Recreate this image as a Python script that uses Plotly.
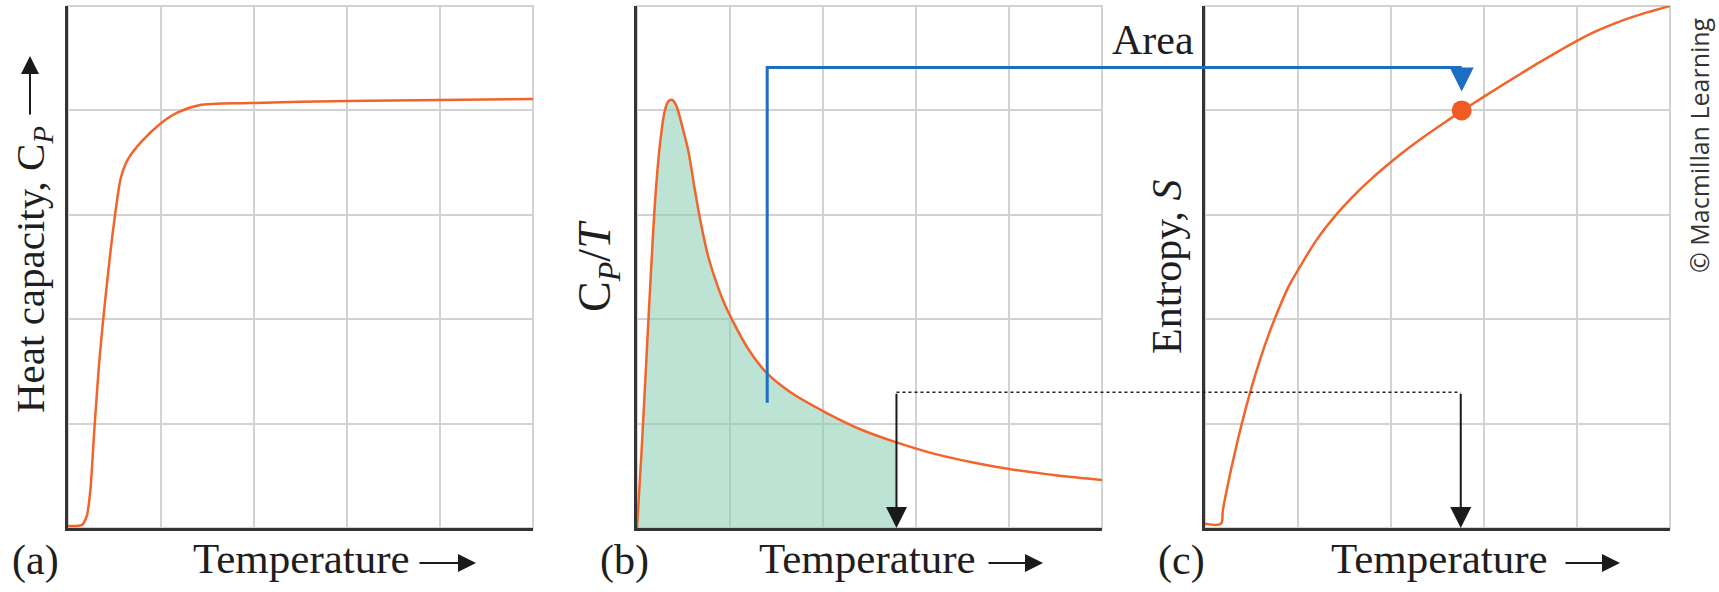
import plotly.graph_objects as go

# ---------------- data (grid units 0..5) ----------------
# (a) heat capacity vs temperature
a_T = [0, 0.15, 0.20, 0.24, 0.28, 0.34, 0.42, 0.49, 0.57, 0.65, 0.80, 0.99, 1.18, 1.41, 1.95, 3.01, 3.99, 5.0]
a_Cp = [0.02, 0.03, 0.11, 0.36, 0.90, 1.63, 2.35, 2.89, 3.36, 3.54, 3.71, 3.87, 3.98, 4.05, 4.07, 4.09, 4.10, 4.11]

# (b) Cp/T vs temperature
b_T = [0, 0.05, 0.10, 0.15, 0.20, 0.25, 0.30, 0.34, 0.38, 0.42, 0.45, 0.50, 0.55, 0.62, 0.68, 0.76, 0.85,
       0.93, 1.02, 1.20, 1.40, 1.65, 2.0, 2.4, 2.79, 3.2, 3.6, 4.0, 4.5, 5.0]
b_CpT = [0, 0.75, 1.60, 2.45, 3.20, 3.70, 4.00, 4.09, 4.10, 4.05, 3.97, 3.80, 3.62, 3.25, 2.95, 2.62, 2.36,
         2.17, 2.0, 1.71, 1.48, 1.30, 1.12, 0.946, 0.82, 0.71, 0.63, 0.565, 0.505, 0.46]
b_fill_end = 2.79          # temperature up to which the area is shaded

# (c) entropy vs temperature
c_T = [0, 0.17, 0.19, 0.2, 0.3, 0.4, 0.5, 0.6, 0.7, 0.8, 0.9, 1.0, 1.2, 1.4, 1.6, 1.8, 2.0, 2.2, 2.4,
       2.6, 2.76, 3.0, 3.2, 3.4, 3.6, 3.8, 4.0, 4.2, 4.4, 4.6, 4.8, 5.0]
c_S = [0.04, 0.04, 0.15, 0.21, 0.64, 1.015, 1.345, 1.635, 1.89, 2.115, 2.315, 2.47, 2.76, 2.99, 3.184,
       3.354, 3.506, 3.646, 3.776, 3.899, 3.993, 4.132, 4.244, 4.354, 4.462, 4.566, 4.666, 4.756, 4.832,
       4.896, 4.95, 5.0]
c_point_T = [2.76]
c_point_S = [4.0]

# connector annotations (grid units)
area_T_b = 1.40            # blue "Area" line in panel b
area_bottom = 1.20
area_level = 4.41
area_T_c = 2.76
area_tip = 4.18
temp_level = 1.30          # dotted temperature transfer line
temp_T_b = 2.79
temp_T_c = 2.75

# ---------------- styling ----------------
W, H = 1719, 592
ORANGE = "#f2642a"
DOT = "#f05a24"
BLUE = "#1b6ec2"
FILL = "rgba(135,204,179,0.55)"
GRID = "#d2d2d2"
AXIS = "#333333"
TXT = "#1e1e1e"
SERIF = "Liberation Serif"


def px(x):
    return x / W


def py(y):
    return 1 - y / H


XDOM = {"a": (px(68), px(533)), "b": (px(637), px(1102)), "c": (px(1205), px(1670))}
YDOM = (py(528), py(6))
RANGE = 5.0


def to_paper(panel, x, y):
    d0, d1 = XDOM[panel]
    return d0 + (d1 - d0) * x / RANGE, YDOM[0] + (YDOM[1] - YDOM[0]) * y / RANGE


fig = go.Figure()

# (a)
fig.add_trace(go.Scatter(x=a_T, y=a_Cp, mode="lines", xaxis="x", yaxis="y",
                         line=dict(color=ORANGE, width=2.5, shape="spline", smoothing=0.8),
                         hoverinfo="skip"))
# (b) shaded area then curve
fill_T = [t for t in b_T if t <= b_fill_end]
fill_V = [v for t, v in zip(b_T, b_CpT) if t <= b_fill_end]
fig.add_trace(go.Scatter(x=fill_T, y=fill_V, mode="lines", xaxis="x2", yaxis="y2",
                         line=dict(width=0, shape="spline", smoothing=1.0),
                         fill="tozeroy", fillcolor=FILL, hoverinfo="skip"))
fig.add_trace(go.Scatter(x=b_T, y=b_CpT, mode="lines", xaxis="x2", yaxis="y2",
                         line=dict(color=ORANGE, width=2.5, shape="spline", smoothing=1.0),
                         hoverinfo="skip"))
# (c)
fig.add_trace(go.Scatter(x=c_T, y=c_S, mode="lines", xaxis="x3", yaxis="y3",
                         line=dict(color=ORANGE, width=2.5, shape="spline", smoothing=1.0),
                         hoverinfo="skip"))
fig.add_trace(go.Scatter(x=c_point_T, y=c_point_S, mode="markers", xaxis="x3", yaxis="y3",
                         marker=dict(color=DOT, size=20), cliponaxis=False, hoverinfo="skip"))

axis_common = dict(range=[0, RANGE], tick0=0, dtick=1, showticklabels=False, ticks="",
                   showgrid=True, gridcolor=GRID, gridwidth=2, zeroline=False,
                   showline=True, linecolor=AXIS, linewidth=3, fixedrange=True)

layout = dict(width=W, height=H, margin=dict(l=0, r=0, t=0, b=0),
              paper_bgcolor="white", plot_bgcolor="white", showlegend=False)
for i, p in enumerate(["a", "b", "c"]):
    sfx = "" if i == 0 else str(i + 1)
    layout["xaxis" + sfx] = dict(axis_common, domain=list(XDOM[p]), anchor="y" + sfx)
    layout["yaxis" + sfx] = dict(axis_common, domain=list(YDOM), anchor="x" + sfx)
fig.update_layout(**layout)

shapes = []
# light grey frame on the top / right of each panel
for i in range(3):
    sfx = "" if i == 0 else str(i + 1)
    shapes.append(dict(type="rect", xref="x" + sfx + " domain", yref="y" + sfx + " domain",
                       x0=0, x1=1, y0=0, y1=1, line=dict(color=GRID, width=2), layer="below"))

# blue connector: panel b up, across, into panel c
p1 = to_paper("b", area_T_b, area_bottom)
p2 = to_paper("b", area_T_b, area_level)
p3 = to_paper("c", area_T_c, area_level)
shapes.append(dict(type="path", xref="paper", yref="paper",
                   path=f"M{p1[0]},{p1[1]} L{p2[0]},{p2[1]} L{p3[0]},{p3[1]}",
                   line=dict(color=BLUE, width=3)))
# dotted temperature connector
q1 = to_paper("b", temp_T_b, temp_level)
q2 = to_paper("c", temp_T_c, temp_level)
shapes.append(dict(type="line", xref="paper", yref="paper",
                   x0=q1[0], y0=q1[1], x1=q2[0], y1=q2[1],
                   line=dict(color="#222222", width=1.6, dash="dot")))
fig.update_layout(shapes=shapes)

ann = []
# arrows
ann.append(dict(xref="x3", yref="y3", axref="x3", ayref="y3", x=area_T_c, y=area_tip,
                ax=area_T_c, ay=area_level, text="", showarrow=True, arrowhead=2,
                arrowsize=1.6, arrowwidth=3, arrowcolor=BLUE, standoff=0))
ann.append(dict(xref="x2", yref="y2", axref="x2", ayref="y2", x=temp_T_b, y=0,
                ax=temp_T_b, ay=temp_level, text="", showarrow=True, arrowhead=2,
                arrowsize=2.1, arrowwidth=2, arrowcolor="#1a1a1a", standoff=0))
ann.append(dict(xref="x3", yref="y3", axref="x3", ayref="y3", x=temp_T_c, y=0,
                ax=temp_T_c, ay=temp_level, text="", showarrow=True, arrowhead=2,
                arrowsize=2.1, arrowwidth=2, arrowcolor="#1a1a1a", standoff=0))


def text(x, y, s, size=42, angle=0, family=SERIF, color=TXT):
    ann.append(dict(xref="paper", yref="paper", x=px(x), y=py(y), text=s, showarrow=False,
                    xanchor="center", yanchor="middle", textangle=angle,
                    font=dict(family=family, size=size, color=color)))


def arrow_px(x0, y0, x1, y1):
    # tail (x0,y0) -> tip (x1,y1), pixel positions on the page
    ann.append(dict(xref="paper", yref="paper", x=px(x1), y=py(y1), ax=x0 - x1, ay=y0 - y1,
                    text="", showarrow=True, arrowhead=2, arrowsize=1.8, arrowwidth=2,
                    arrowcolor="#1a1a1a", standoff=0))


# x labels
text(301, 558, "Temperature", size=43)
text(868, 558, "Temperature", size=43)
text(1439, 558, "Temperature", size=43)
arrow_px(418, 563, 476, 563)
arrow_px(987, 563, 1043, 563)
arrow_px(1564, 563, 1620, 563)
text(35, 560, "(a)")
text(624, 560, "(b)")
text(1181, 560, "(c)")

# y labels
text(33, 270, "Heat capacity, C<sub><i>P</i></sub>", size=41, angle=-90)
arrow_px(30, 116, 30, 56)
text(598, 266, "C<sub><i>P</i></sub>/<i>T</i>", size=46, angle=-90)
text(1167, 267, "Entropy, <i>S</i>", angle=-90)

text(1153, 40, "Area")
text(1699, 145, "© Macmillan Learning", size=25, angle=-90, family="Open Sans", color="#333333")

fig.update_layout(annotations=ann)
fig.write_html("out.html", config={"displayModeBar": False},
               post_script="document.body.style.margin='0';document.body.style.overflow='hidden';")
